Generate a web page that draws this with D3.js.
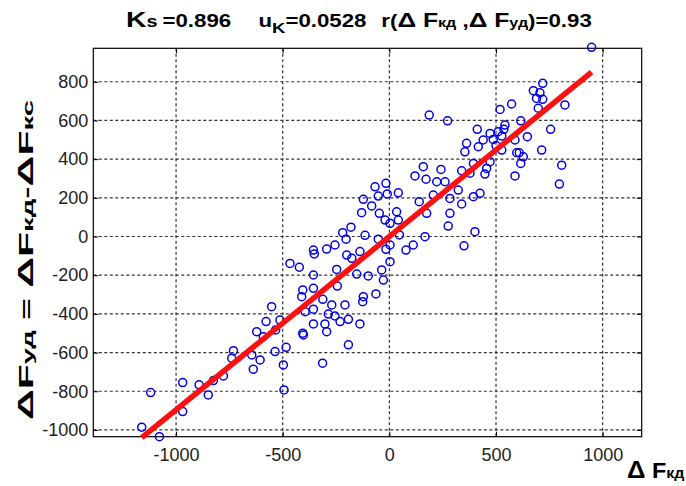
<!DOCTYPE html>
<html>
<head>
<meta charset="utf-8">
<script src="https://cdn.jsdelivr.net/npm/d3@7"></script>
<style>
  body { margin: 0; background: #fff; }
  text { font-family: "Liberation Sans", Arial, sans-serif; }
</style>
</head>
<body>
<div id="chart"></div>
<script>

// data

var xVals = [
  -1161, -1078, -1119, -969, -969, -892, -849, -825, -778, -731, -739, -645, -606, -638, -622, -578, -552, -591, -533, -513, -536, -484, -497, -494, -403, -313,
  -67, -16, -52, -10, 42, -122, -83, -130, -47, -20, 34, 42, 3, -180, -219, -203, -114, -52, 47, 78, 3, -16, -356, -294, -255, -352, -466, -422, -200, -176,
  -138, -247, -153, -99, -36, -28, 3, -356, -406, -356, -411, -244, -122, -63, -125, -312, -270, -208, -356, -286, -395, -255, -192, -356, -302, -138, -406, -294, -231, -192,
  187, 273, 519, 573, 412, 472, 510, 542, 440, 487, 527, 362, 354, 417, 527, 597, 159, 242, 120, 172, 222, 261, 339, 394, 378, 456, 472, 448, 589,
  140, 206, 284, 323, 394, 425, 175, 284, 339, 276, 401, 167, 112, 350,
  948, 719, 675, 706, 690, 719, 698, 823, 616, 756, 647, 589, 714, 609, 628, 616, 808, 797, 537, 500
];

var yVals = [
  -986, -1035, -807, -755, -905, -767, -819, -745, -721, -590, -629, -612, -638, -686, -492, -440, -363, -518, -483, -432, -595, -573, -664, -793, -509, -655,
  257, 275, 209, 220, 226, 192, 158, 123, 120, 85, 128, 85, 68, 48, 20, -14, 6, -14, 8, -70, -44, -66, -70, -65, -44, -90, -139, -159, -96, -113,
  -78, -170, -194, -204, -173, -225, -130, -199, -276, -268, -311, -256, -311, -297, -337, -325, -354, -354, -376, -401, -389, -411, -428, -452, -452, -452, -500, -492, -440, -560,
  628, 598, 657, 685, 554, 533, 542, 576, 499, 502, 519, 482, 438, 464, 447, 433, 361, 347, 313, 296, 283, 283, 340, 378, 327, 352, 387, 323, 313,
  180, 214, 197, 240, 206, 223, 120, 120, 168, 54, 25, -1, -44, -48,
  978, 792, 754, 743, 714, 709, 663, 680, 598, 554, 516, 499, 447, 433, 412, 378, 369, 271, 554, 470
];

var xTicks = [-1000, -500, 0, 500, 1000];
var yTicks = [-1000, -800, -600, -400, -200, 0, 200, 400, 600, 800];

var Ks = 0.896;   // slope of the red fit line (from the title)
var uK = "0.0528";
var rVal = "0.93";

//set the stage

var svgWidth = 686;
var svgHeight = 486;

var plot = { left: 93.3, right: 641.7, top: 48.3, bottom: 436.7 };

var svg = d3.select("#chart")
  .append("svg")
  .attr("width", svgWidth)
  .attr("height", svgHeight);

var points = xVals.map(function(d, i) { return { x: d, y: yVals[i] }; });

// scales

var xScale = d3.scaleLinear()
  .domain([-1388, 1183])
  .range([plot.left, plot.right]);

var yScale = d3.scaleLinear()
  .domain([-1035, 973])
  .range([plot.bottom, plot.top]);

// dotted grid

var gridGroup = svg.append("g");

gridGroup.selectAll(".vgrid")
  .data(xTicks)
  .enter()
  .append("line")
  .attr("x1", d => xScale(d))
  .attr("x2", d => xScale(d))
  .attr("y1", plot.top)
  .attr("y2", plot.bottom)
  .attr("stroke", "#333")
  .attr("stroke-width", 1.2)
  .attr("stroke-dasharray", "3,2.5");

gridGroup.selectAll(".hgrid")
  .data(yTicks)
  .enter()
  .append("line")
  .attr("x1", plot.left)
  .attr("x2", plot.right)
  .attr("y1", d => yScale(d))
  .attr("y2", d => yScale(d))
  .attr("stroke", "#333")
  .attr("stroke-width", 1.2)
  .attr("stroke-dasharray", "3,2.5");

// axes, ticks pointing inside like matlab

var plainNum = d => String(d);

var bottomAxis = d3.axisBottom(xScale).tickValues(xTicks).tickFormat(plainNum).tickSize(-5).tickSizeOuter(0).tickPadding(11.5);
var leftAxis = d3.axisLeft(yScale).tickValues(yTicks).tickFormat(plainNum).tickSize(-5).tickSizeOuter(0).tickPadding(5);
var topAxis = d3.axisTop(xScale).tickValues(xTicks).tickSize(-5).tickSizeOuter(0).tickFormat("");
var rightAxis = d3.axisRight(yScale).tickValues(yTicks).tickSize(-5).tickSizeOuter(0).tickFormat("");

var axes = [
  svg.append("g").attr("transform", `translate(0, ${plot.bottom})`).call(bottomAxis),
  svg.append("g").attr("transform", `translate(${plot.left}, 0)`).call(leftAxis),
  svg.append("g").attr("transform", `translate(0, ${plot.top})`).call(topAxis),
  svg.append("g").attr("transform", `translate(${plot.right}, 0)`).call(rightAxis)
];

axes.forEach(function(g) {
  g.select(".domain").remove();
  g.attr("font-family", null).attr("font-size", null);
  g.selectAll("line").attr("stroke", "#000");
  g.selectAll("text")
    .attr("fill", "#222")
    .style("font-size", "18px");
});

// box

svg.append("rect")
  .attr("x", plot.left)
  .attr("y", plot.top)
  .attr("width", plot.right - plot.left)
  .attr("height", plot.bottom - plot.top)
  .attr("fill", "none")
  .attr("stroke", "#000")
  .attr("stroke-width", 1.2);

// circles

svg.append("g")
  .selectAll("circle")
  .data(points)
  .enter()
  .append("circle")
  .attr("cx", d => xScale(d.x))
  .attr("cy", d => yScale(d.y))
  .attr("r", 4)
  .attr("fill", "none")
  .attr("stroke", "#0000e6")
  .attr("stroke-width", 1.5);

// red fit line over the data range

var xExt = d3.extent(xVals);

svg.append("line")
  .attr("x1", xScale(xExt[0]))
  .attr("y1", yScale(Ks * xExt[0]))
  .attr("x2", xScale(xExt[1]))
  .attr("y2", yScale(Ks * xExt[1]))
  .attr("stroke", "#ff1010")
  .attr("stroke-width", 5.5);

// helper: x stretch needed so a text fills a given width (the picture's fonts are wide)

function fitText(sel, width) {
  var box = sel.node().getBBox();
  return width / box.width;
}

// title

var title = svg.append("text")
  .attr("font-weight", "bold")
  .attr("font-size", 18)
  .attr("fill", "#000");

title.append("tspan").attr("font-size", 23).text("K");
title.append("tspan").attr("font-size", 16).text("s");
title.append("tspan").attr("dx", 4).text("=0.896");
title.append("tspan").attr("dx", 22).text("u");
title.append("tspan").attr("font-size", 15).attr("dy", 6).text("K");
title.append("tspan").attr("dy", -6).text("=" + uK);
title.append("tspan").attr("dx", 12).text("r(");
title.append("tspan").attr("font-size", 21).text("Δ");
title.append("tspan").attr("font-size", 20).text(" F");
title.append("tspan").attr("font-size", 13).text("кд");
title.append("tspan").text(" ,");
title.append("tspan").attr("font-size", 21).text("Δ");
title.append("tspan").attr("font-size", 20).text(" F");
title.append("tspan").attr("font-size", 13).text("уд");
title.append("tspan").text(")=" + rVal);

var tsx = fitText(title, 466);
title.attr("transform", `translate(126, 27) scale(${tsx}, 1)`);

// y label, rotated

var yLab = svg.append("text")
  .attr("font-weight", "bold")
  .attr("font-size", 19)
  .attr("fill", "#000");

yLab.append("tspan").attr("font-size", 22).text("Δ");
yLab.append("tspan").attr("font-size", 21).text("F");
yLab.append("tspan").attr("font-size", 15).text("уд");
yLab.append("tspan").text(" = ");
yLab.append("tspan").attr("font-size", 22).text("Δ");
yLab.append("tspan").attr("font-size", 21).text("F");
yLab.append("tspan").attr("font-size", 15).text("кд");
yLab.append("tspan").text("-");
yLab.append("tspan").attr("font-size", 22).text("Δ");
yLab.append("tspan").attr("font-size", 21).text("F");
yLab.append("tspan").attr("font-size", 15).text("кс");

var ysx = fitText(yLab, 320);
yLab.attr("transform", `translate(33, 420) rotate(-90) scale(${ysx}, 1)`);

// x label

var xLab = svg.append("text")
  .attr("font-weight", "bold")
  .attr("font-size", 20)
  .attr("fill", "#000");

xLab.append("tspan").attr("font-size", 24).text("Δ");
xLab.append("tspan").attr("font-size", 22).text(" F");
xLab.append("tspan").attr("font-size", 15).text("кд");

var xsx = fitText(xLab, 58);
xLab.attr("transform", `translate(627, 478) scale(${xsx}, 1)`);

</script>
</body>
</html>
